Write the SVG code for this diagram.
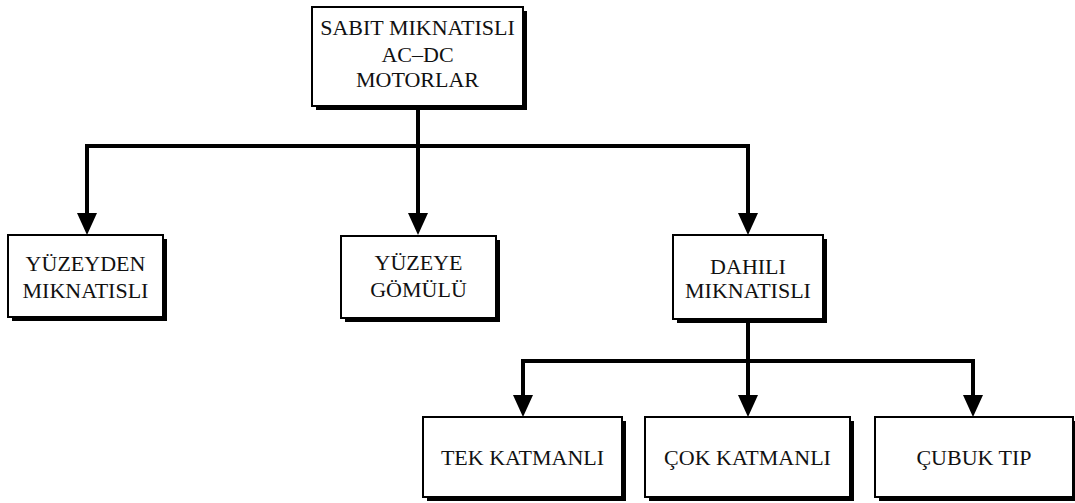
<svg xmlns="http://www.w3.org/2000/svg" width="1075" height="503" viewBox="0 0 1075 503">
<defs>
<style>
.shadow{fill:#000}
.box{fill:#fff;stroke:#000;stroke-width:2}
.t{font-family:'Liberation Serif','Times New Roman',Times,'DejaVu Serif',serif;font-size:22px;fill:#111;text-anchor:middle}
.c{fill:none;stroke:#000;stroke-width:4;stroke-linejoin:miter}
</style>
<marker id="ah" markerUnits="userSpaceOnUse" markerWidth="20" markerHeight="22" refX="10" refY="10" orient="0" overflow="visible">
<polygon points="0,0 20,0 10,22" fill="#000"/>
</marker>
</defs>
<rect width="1075" height="503" fill="#fff"/>
<g id="connectors">
<path class="c" d="M418 106 V146"/>
<path class="c" d="M87 223 V146 H748 V223" marker-end="url(#ah)"/>
<path class="c" d="M87 146 V223" marker-end="url(#ah)"/>
<path class="c" d="M418 146 V223" marker-end="url(#ah)"/>
<path class="c" d="M748 319 V361"/>
<path class="c" d="M523 405 V361 H973 V405" marker-end="url(#ah)"/>
<path class="c" d="M523 361 V405" marker-end="url(#ah)"/>
<path class="c" d="M748 361 V405" marker-end="url(#ah)"/>
</g>
<g id="root">
<rect class="shadow" x="316" y="11" width="211" height="99"/>
<rect class="box" x="312" y="7" width="211" height="99"/>
<text class="t" x="417.5" y="35">SABIT MIKNATISLI</text>
<text class="t" x="417.5" y="62">AC–DC</text>
<text class="t" x="417.5" y="87">MOTORLAR</text>
</g>
<g id="yuzeyden">
<rect class="shadow" x="12" y="239" width="155" height="82"/>
<rect class="box" x="8" y="235" width="155" height="82"/>
<text class="t" x="85.5" y="271">YÜZEYDEN</text>
<text class="t" x="85.5" y="298">MIKNATISLI</text>
</g>
<g id="yuzeye">
<rect class="shadow" x="345" y="240" width="155" height="82"/>
<rect class="box" x="341" y="236" width="155" height="82"/>
<text class="t" x="418.5" y="270">YÜZEYE</text>
<text class="t" x="418.5" y="297">GÖMÜLÜ</text>
</g>
<g id="dahili">
<rect class="shadow" x="677" y="239" width="150" height="84"/>
<rect class="box" x="673" y="235" width="150" height="84"/>
<text class="t" x="748" y="274">DAHILI</text>
<text class="t" x="748" y="298">MIKNATISLI</text>
</g>
<g id="tek">
<rect class="shadow" x="427" y="421" width="199" height="80"/>
<rect class="box" x="423" y="417" width="199" height="80"/>
<text class="t" x="522.5" y="465">TEK KATMANLI</text>
</g>
<g id="cok">
<rect class="shadow" x="649" y="421" width="205" height="80"/>
<rect class="box" x="645" y="417" width="205" height="80"/>
<text class="t" x="747.5" y="465">ÇOK KATMANLI</text>
</g>
<g id="cubuk">
<rect class="shadow" x="879" y="421" width="198" height="80"/>
<rect class="box" x="875" y="417" width="198" height="80"/>
<text class="t" x="974" y="465">ÇUBUK TIP</text>
</g>
</svg>
